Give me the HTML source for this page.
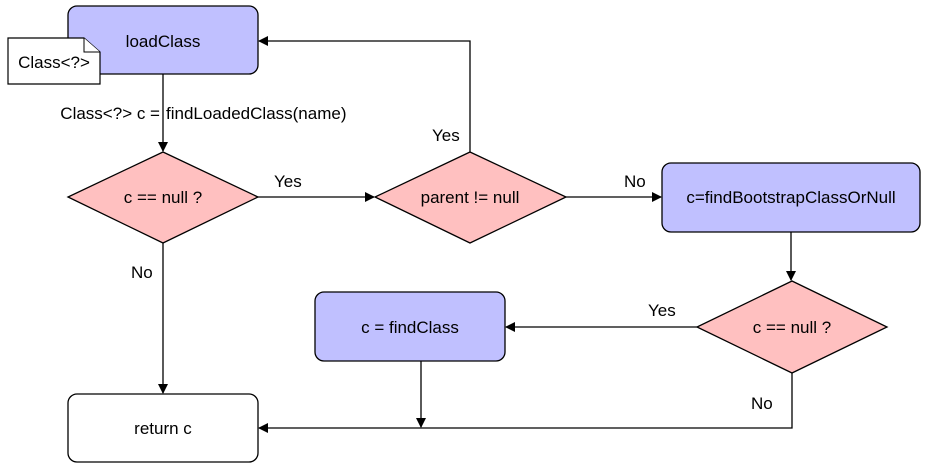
<!DOCTYPE html>
<html><head><style>
html,body{margin:0;padding:0;background:#fff;width:925px;height:468px;overflow:hidden}
svg text{font-family:"Liberation Sans",Arial,sans-serif;font-size:17px;fill:#000}
</style></head><body>
<svg width="925" height="468" viewBox="0 0 925 468" xmlns="http://www.w3.org/2000/svg">
<defs><marker id="a" markerWidth="10" markerHeight="10" refX="9" refY="5" orient="auto" markerUnits="userSpaceOnUse"><path d="M0,0 L10,5 L0,10 Z" fill="#000"/></marker></defs>
<g stroke="#000" stroke-width="1.3" fill="none">
<line x1="163" y1="74" x2="163" y2="151" marker-end="url(#a)"/>
<line x1="258" y1="197" x2="374" y2="197" marker-end="url(#a)"/>
<polyline points="470,152 470,41 259,41" marker-end="url(#a)"/>
<line x1="566" y1="197" x2="661" y2="197" marker-end="url(#a)"/>
<line x1="791" y1="232" x2="791" y2="280" marker-end="url(#a)"/>
<line x1="697" y1="327" x2="506" y2="327" marker-end="url(#a)"/>
<line x1="421" y1="361" x2="421" y2="427" marker-end="url(#a)"/>
<polyline points="792,373 792,428 259,428" marker-end="url(#a)"/>
<line x1="163" y1="243" x2="163" y2="393" marker-end="url(#a)"/>
</g>
<rect x="68" y="6" width="190" height="68" rx="9" fill="#c0c0ff" stroke="#000" stroke-width="1.3"/>
<path d="M8,38 H84 L100,52 V84 H8 Z" fill="#fff" stroke="#000" stroke-width="1.2"/>
<path d="M84,38 V52 H100" fill="#fff" stroke="#000" stroke-width="1"/>
<polygon points="163,152 258,197 163,243 68,197" fill="#ffc0c0" stroke="#000" stroke-width="1.3"/>
<polygon points="470,152 566,197 470,243 375,197" fill="#ffc0c0" stroke="#000" stroke-width="1.3"/>
<rect x="662" y="163" width="258" height="69" rx="9" fill="#c0c0ff" stroke="#000" stroke-width="1.3"/>
<polygon points="792,281 887,327 792,373 697,327" fill="#ffc0c0" stroke="#000" stroke-width="1.3"/>
<rect x="315" y="292" width="190" height="69" rx="9" fill="#c0c0ff" stroke="#000" stroke-width="1.3"/>
<rect x="68" y="394" width="190" height="68" rx="9" fill="#fff" stroke="#000" stroke-width="1.3"/>
<g text-anchor="middle">
<text x="163" y="47">loadClass</text>
<text x="54" y="68">Class&lt;?&gt;</text>
<text x="163" y="203">c == null ?</text>
<text x="470" y="203">parent != null</text>
<text x="791" y="203">c=findBootstrapClassOrNull</text>
<text x="792" y="333">c == null ?</text>
<text x="410" y="333">c = findClass</text>
<text x="163" y="434">return c</text>
</g>
<text x="160" y="119" text-anchor="end">Class&lt;?&gt; c =</text>
<text x="166" y="119">findLoadedClass(name)</text>
<text x="274" y="187">Yes</text>
<text x="432" y="141">Yes</text>
<text x="624" y="187">No</text>
<text x="648" y="316">Yes</text>
<text x="751" y="409">No</text>
<text x="131" y="278">No</text>
</svg>
</body></html>
